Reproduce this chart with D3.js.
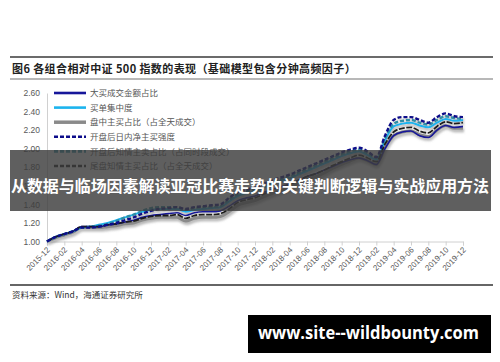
<!DOCTYPE html>
<html>
<head>
<meta charset="utf-8">
<script src="https://cdn.jsdelivr.net/npm/d3@7"></script>
<style>
  body { margin: 0; background: #fff; }
  text { font-family: "Liberation Sans", Arial, sans-serif; }
  .cjk { font-family: "Noto Sans CJK SC", sans-serif; }
</style>
</head>
<body>
<div id="chart"></div>
<script>
// month categories (one point per month end)
var months = ["2015-12","2016-01","2016-02","2016-03","2016-04","2016-05","2016-06","2016-07","2016-08","2016-09","2016-10","2016-11",
  "2016-12","2017-01","2017-02","2017-03","2017-04","2017-05","2017-06","2017-07","2017-08","2017-09","2017-10","2017-11",
  "2017-12","2018-01","2018-02","2018-03","2018-04","2018-05","2018-06","2018-07","2018-08","2018-09","2018-10","2018-11",
  "2018-12","2019-01","2019-02","2019-03","2019-04","2019-05","2019-06","2019-07","2019-08","2019-09","2019-10","2019-11","2019-12"];

var xTicks = ["2015-12","2016-02","2016-04","2016-06","2016-08","2016-10","2016-12","2017-02","2017-04","2017-06","2017-08","2017-10",
  "2017-12","2018-02","2018-04","2018-06","2018-08","2018-10","2018-12","2019-02","2019-04","2019-06","2019-08","2019-10","2019-12"];
var yTicks = [1.00, 1.20, 1.40, 1.60, 1.80, 2.00, 2.20, 2.40, 2.60];

var seriesNames = ["大买成交金额占比", "买单集中度", "盘中主买占比（占全天成交）", "开盘后日内净主买强度",
  "开盘后知情主卖占比（占同时段成交）", "尾盘知情主买占比（占全天成交）"];

var bigBuy = [1.00,1.05,1.08,1.11,1.16,1.16,1.16,1.18,1.19,1.21,1.23,1.26,1.28,1.29,1.30,1.31,1.28,1.31,1.32,1.32,1.33,1.38,1.44,1.47,1.49,
  1.53,1.56,1.59,1.62,1.66,1.70,1.73,1.77,1.81,1.85,1.88,1.90,1.87,1.83,2.00,2.14,2.18,2.19,2.14,2.12,2.20,2.25,2.23,2.24];
var buyConc = [1.00,1.05,1.08,1.11,1.15,1.16,1.18,1.20,1.23,1.26,1.29,1.32,1.34,1.35,1.35,1.35,1.32,1.34,1.35,1.36,1.37,1.43,1.49,1.52,1.54,
  1.58,1.62,1.65,1.68,1.72,1.76,1.80,1.84,1.88,1.92,1.95,1.97,1.93,1.88,2.09,2.24,2.27,2.28,2.25,2.23,2.28,2.32,2.30,2.31];
var intraBuy = [1.00,1.04,1.07,1.10,1.15,1.15,1.15,1.16,1.17,1.19,1.20,1.23,1.25,1.26,1.26,1.26,1.22,1.25,1.26,1.26,1.27,1.32,1.39,1.42,1.44,
  1.48,1.52,1.55,1.58,1.63,1.67,1.70,1.74,1.79,1.83,1.87,1.90,1.87,1.83,2.01,2.14,2.18,2.19,2.15,2.13,2.20,2.25,2.22,2.22];
var openNet = [1.00,1.05,1.08,1.11,1.15,1.15,1.16,1.18,1.20,1.23,1.26,1.30,1.33,1.35,1.36,1.37,1.35,1.37,1.38,1.39,1.40,1.47,1.53,1.56,1.58,
  1.62,1.66,1.69,1.72,1.76,1.80,1.84,1.88,1.92,1.96,1.99,2.01,1.97,1.91,2.14,2.31,2.34,2.34,2.31,2.28,2.34,2.38,2.35,2.34];
var openSell = [1.00,1.05,1.08,1.11,1.15,1.16,1.17,1.19,1.22,1.26,1.29,1.33,1.36,1.37,1.37,1.37,1.34,1.36,1.37,1.37,1.38,1.45,1.51,1.54,1.56,
  1.60,1.64,1.67,1.70,1.74,1.78,1.82,1.86,1.90,1.94,1.97,1.99,1.95,1.90,2.11,2.27,2.30,2.31,2.28,2.26,2.31,2.35,2.33,2.32];
var tailBuy = [1.00,1.05,1.08,1.11,1.16,1.16,1.16,1.18,1.19,1.21,1.22,1.25,1.27,1.28,1.28,1.29,1.25,1.28,1.29,1.29,1.30,1.35,1.42,1.45,1.47,
  1.51,1.55,1.58,1.61,1.66,1.70,1.73,1.77,1.82,1.86,1.90,1.93,1.90,1.86,2.05,2.18,2.22,2.23,2.19,2.17,2.24,2.29,2.27,2.28];

var seriesValues = [bigBuy, buyConc, intraBuy, openNet, openSell, tailBuy];
var seriesColors = ["#16169a", "#1cb4ee", "#8a8a8a", "#0c0c8a", "#2e8ea6", "#1c1c1c"];
var seriesWidths = [1.6, 2, 3, 2.4, 2.4, 1.8];
var seriesDash = [null, null, null, "4,2", "4,2", "6,1.5"];
var drawOrder = [2, 1, 0, 4, 5, 3];

var W = 500, H = 362;
var svg = d3.select("#chart").append("svg")
  .attr("width", W).attr("height", H);

var defs = svg.append("defs");
var f = defs.append("filter").attr("id", "shadow")
  .attr("x", "-5%").attr("y", "-5%").attr("width", "110%").attr("height", "120%");
f.append("feDropShadow").attr("dx", 1).attr("dy", 2.5).attr("stdDeviation", 1)
  .attr("flood-color", "#777").attr("flood-opacity", 0.55);

// header rules + title
svg.append("line").attr("x1", 10).attr("x2", 493).attr("y1", 57).attr("y2", 57)
  .attr("stroke", "#3a3a3a").attr("stroke-width", 1.5);
svg.append("text").attr("class", "cjk").attr("x", 12).attr("y", 73)
  .attr("font-size", 11).attr("font-weight", "bold").attr("fill", "#222")
  .attr("letter-spacing", 0.4)
  .text("图6  各组合相对中证 500 指数的表现（基础模型包含分钟高频因子）");
svg.append("line").attr("x1", 10).attr("x2", 493).attr("y1", 79).attr("y2", 79)
  .attr("stroke", "#a0a0a0").attr("stroke-width", 1.5);

// scales
var x = d3.scalePoint().domain(months).range([47, 463]);
var y = d3.scaleLinear().domain([1.0, 2.6]).range([241.5, 93]);

// y axis
var gy = svg.append("g").attr("transform", "translate(47,0)")
  .call(d3.axisLeft(y).tickValues(yTicks).tickFormat(d3.format(".2f")).tickSize(0).tickPadding(7));
gy.select(".domain").attr("stroke", "#d0d0d0");
gy.selectAll("text").attr("font-size", 8.5).attr("fill", "#595959")
  .style("font-family", "'Liberation Sans', Arial, sans-serif");

// x axis
var gx = svg.append("g").attr("transform", "translate(0,241.5)")
  .call(d3.axisBottom(x).tickValues(xTicks).tickSize(4).tickPadding(2));
gx.select(".domain").attr("stroke", "#d0d0d0");
gx.selectAll("line").attr("stroke", "#d0d0d0");
gx.selectAll("text").attr("font-size", 8).attr("fill", "#595959")
  .style("font-family", "'Liberation Sans', Arial, sans-serif")
  .attr("text-anchor", "end")
  .attr("dy", "0.3em")
  .attr("transform", "translate(-3,3)rotate(-45)");

// lines
var line = d3.line().x(function(d, i) { return x(months[i]); }).y(function(d) { return y(d); })
  .curve(d3.curveMonotoneX);
var plot = svg.append("g").attr("filter", "url(#shadow)");
drawOrder.forEach(function(k) {
  plot.append("path").datum(seriesValues[k])
    .attr("d", line)
    .attr("fill", "none")
    .attr("stroke", seriesColors[k])
    .attr("stroke-width", seriesWidths[k])
    .attr("stroke-dasharray", seriesDash[k]);
});

// legend
var legend = svg.append("g");
seriesNames.forEach(function(name, i) {
  var ly = 93 + i * 14.6;
  legend.append("line").attr("x1", 54).attr("x2", 86).attr("y1", ly).attr("y2", ly)
    .attr("stroke", seriesColors[i]).attr("stroke-width", i === 2 ? 3.5 : 2.6)
    .attr("stroke-dasharray", seriesDash[i] ? "4,2" : null);
  legend.append("text").attr("class", "cjk").attr("x", 90).attr("y", ly + 3.2)
    .attr("font-size", 8.5).attr("fill", "#555").text(name);
});

// footer
svg.append("line").attr("x1", 10).attr("x2", 493).attr("y1", 285).attr("y2", 285)
  .attr("stroke", "#333").attr("stroke-width", 1.5);
svg.append("text").attr("class", "cjk").attr("x", 12).attr("y", 298)
  .attr("font-size", 8.5).attr("fill", "#333").text("资料来源：Wind，海通证券研究所");

// overlay banner
svg.append("rect").attr("x", 10).attr("y", 150).attr("width", 481).attr("height", 61)
  .attr("fill", "#3c3c3c").attr("opacity", 0.82);
svg.append("text").attr("class", "cjk").attr("x", 250).attr("y", 192)
  .attr("text-anchor", "middle").attr("font-size", 15.5).attr("font-weight", "bold")
  .attr("fill", "#fff").attr("textLength", 478).attr("lengthAdjust", "spacingAndGlyphs")
  .text("从数据与临场因素解读亚冠比赛走势的关键判断逻辑与实战应用方法");

// watermark box
svg.append("rect").attr("x", 248).attr("y", 315).attr("width", 243).attr("height", 38).attr("fill", "#000");
svg.append("text").attr("x", 258).attr("y", 339)
  .attr("font-size", 17).attr("font-weight", "bold").attr("fill", "#fff")
  .attr("textLength", 221).attr("lengthAdjust", "spacingAndGlyphs")
  .style("font-family", "'Open Sans', 'DejaVu Sans', sans-serif")
  .text("www.site--wildbounty.com");
</script>
</body>
</html>
